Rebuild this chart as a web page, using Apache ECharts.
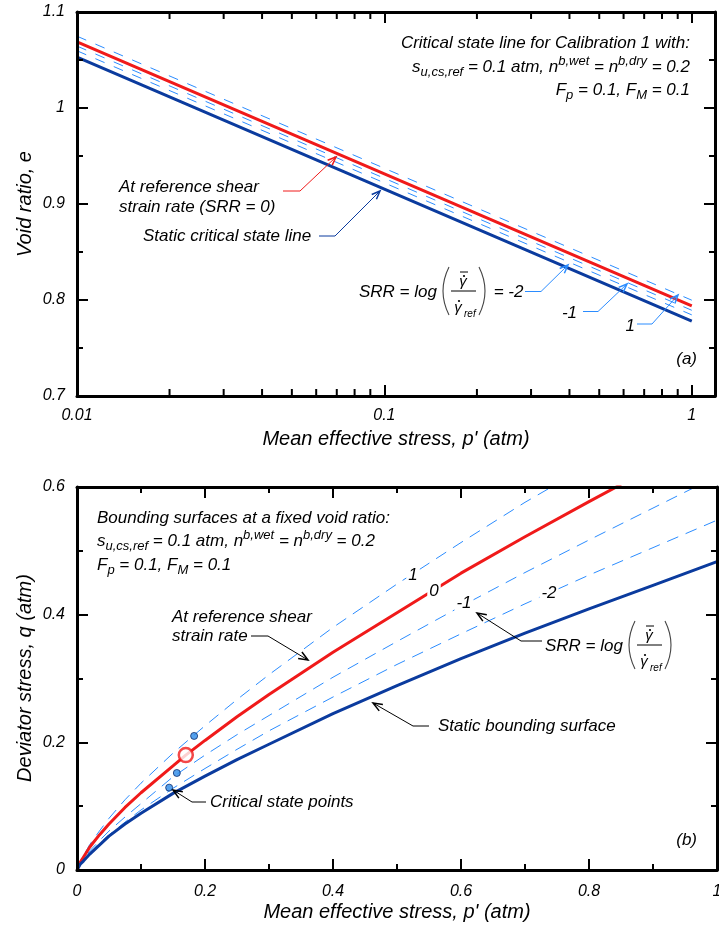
<!DOCTYPE html>
<html><head><meta charset="utf-8">
<script src="https://cdn.jsdelivr.net/npm/echarts@6.0.0/dist/echarts.min.js"></script>
<style>
html,body{margin:0;padding:0;background:#fff;overflow:hidden}
#wrap{position:relative;width:719px;height:930px}
#base,#axes{position:absolute;left:0;top:0;width:719px;height:930px}
#axes{pointer-events:none}
</style>
</head><body><div id="wrap"><div id="base"></div><div id="axes"></div></div>
<script>
// ---------------- data: panel (a) ----------------
const topP = [0.01, 0.1, 1];
const topStatic = [1.053, 0.9155, 0.778];
const topRef    = [1.069, 0.9315, 0.794];
const topSrrP1  = [1.0748, 0.9372, 0.7998];
const topSrrM1  = [1.0645, 0.9268, 0.7893];
const topSrrM2  = [1.0596, 0.9220, 0.7845];
const topXRange = [0.01, 1.19];
const topYRange = [0.7, 1.1];
const topLogMinorTicks = [0.02,0.03,0.04,0.05,0.06,0.07,0.08,0.09,0.2,0.3,0.4,0.5,0.6,0.7,0.8,0.9];

// ---------------- data: panel (b) ----------------
const botStaticP = [0, 0.005, 0.01, 0.02, 0.035, 0.05, 0.075, 0.1, 0.15, 0.2, 0.25, 0.3, 0.4, 0.5, 0.6, 0.7, 0.8, 0.9, 1.0];
const botStaticQ = [0, 0.009, 0.014, 0.025, 0.039, 0.053, 0.072, 0.089, 0.120, 0.147, 0.173, 0.197, 0.245, 0.289, 0.331, 0.371, 0.409, 0.446, 0.483];
const botRefP = [0, 0.005, 0.01, 0.02, 0.035, 0.05, 0.075, 0.1, 0.15, 0.17, 0.2, 0.25, 0.3, 0.4, 0.5, 0.6, 0.7, 0.8, 0.85];
const botRefQ = [0, 0.012, 0.020, 0.036, 0.055, 0.072, 0.098, 0.121, 0.163, 0.180, 0.203, 0.240, 0.275, 0.341, 0.403, 0.465, 0.522, 0.577, 0.604];
const botSrrP1P = [0, 0.005, 0.01, 0.02, 0.035, 0.05, 0.075, 0.1, 0.15, 0.2, 0.25, 0.3, 0.4, 0.5, 0.6, 0.7, 0.75];
const botSrrP1Q = [0, 0.013, 0.022, 0.040, 0.061, 0.081, 0.110, 0.136, 0.183, 0.226, 0.267, 0.306, 0.380, 0.448, 0.513, 0.576, 0.605];
const botSrrM1P = [0, 0.005, 0.01, 0.02, 0.035, 0.05, 0.075, 0.1, 0.15, 0.2, 0.25, 0.3, 0.4, 0.5, 0.6, 0.7, 0.8, 0.9, 0.97];
const botSrrM1Q = [0, 0.010, 0.017, 0.030, 0.046, 0.061, 0.083, 0.104, 0.146, 0.180, 0.212, 0.242, 0.302, 0.358, 0.413, 0.466, 0.517, 0.567, 0.602];
const botSrrM2P = [0, 0.005, 0.01, 0.02, 0.035, 0.05, 0.075, 0.1, 0.15, 0.2, 0.25, 0.3, 0.4, 0.5, 0.6, 0.7, 0.8, 0.9, 1.0];
const botSrrM2Q = [0, 0.009, 0.016, 0.027, 0.042, 0.055, 0.075, 0.094, 0.128, 0.159, 0.189, 0.218, 0.271, 0.322, 0.370, 0.417, 0.462, 0.505, 0.548];
const csPointsP = [0.144, 0.156, 0.183];
const csPointsQ = [0.129, 0.152, 0.210];
const refPointP = [0.17];
const refPointQ = [0.180];
const botXRange = [0, 1];
const botYRange = [0, 0.6];

// ---------------- styling ----------------
const FONT = '"Liberation Sans", Arial, sans-serif';
const RED = '#f01a1a', NAVY = '#0b3b9e', LBLUE = '#2b8cff';
const zip = (a, b) => a.map((v, i) => [v, b[i]]);

function report(e) {
  try {
    console.error(e);
    const d = document.createElement('div');
    d.style.cssText = 'position:absolute;left:2px;top:919px;font:8px sans-serif;color:#ccc;z-index:9';
    d.textContent = String((e && e.message) || e).slice(0, 140);
    document.body.appendChild(d);
  } catch (x) {}
}
window.addEventListener('error', ev => report(ev.message));

function grids() {
  return [
    {left: 77, top: 12, width: 638, height: 384, outerBoundsMode: 'none', containLabel: false},
    {left: 77, top: 487, width: 640, height: 383, outerBoundsMode: 'none', containLabel: false}
  ];
}

// ================= axes layer (frame, ticks, tick labels) =================
const axisLine = () => ({show: true, onZero: false, lineStyle: {color: '#000', width: 3}});
const axisTick = () => ({show: true, inside: true, length: 11, lineStyle: {color: '#000', width: 2}});
const minorTick = () => ({show: true, splitNumber: 2, length: 6, lineStyle: {color: '#000', width: 2}});
const labelStyle = (m) => ({show: true, margin: m, color: '#000', fontSize: 16, fontStyle: 'italic', fontFamily: FONT});
function topXLabel() { const o = labelStyle(12); o.showMaxLabel = false; return o; }

const axesOption = {
  animation: false,
  backgroundColor: 'transparent',
  grid: grids(),
  xAxis: [
    {gridIndex: 0, type: 'log', min: topXRange[0], max: topXRange[1], position: 'bottom',
      axisLine: axisLine(), axisTick: axisTick(), splitLine: {show: false}, axisLabel: topXLabel()},
    {gridIndex: 0, type: 'log', min: topXRange[0], max: topXRange[1], position: 'top',
      axisLine: axisLine(), axisTick: axisTick(), splitLine: {show: false}, axisLabel: {show: false}},
    {gridIndex: 1, type: 'value', min: botXRange[0], max: botXRange[1], interval: 0.2, position: 'bottom',
      axisLine: axisLine(), axisTick: axisTick(), minorTick: minorTick(), splitLine: {show: false}, axisLabel: labelStyle(14)},
    {gridIndex: 1, type: 'value', min: botXRange[0], max: botXRange[1], interval: 0.2, position: 'top',
      axisLine: axisLine(), axisTick: axisTick(), minorTick: minorTick(), splitLine: {show: false}, axisLabel: {show: false}}
  ],
  yAxis: [
    {gridIndex: 0, type: 'value', min: topYRange[0], max: topYRange[1], interval: 0.1, position: 'left',
      axisLine: axisLine(), axisTick: axisTick(), minorTick: minorTick(), splitLine: {show: false}, axisLabel: labelStyle(12)},
    {gridIndex: 0, type: 'value', min: topYRange[0], max: topYRange[1], interval: 0.1, position: 'right',
      axisLine: axisLine(), axisTick: axisTick(), minorTick: minorTick(), splitLine: {show: false}, axisLabel: {show: false}},
    {gridIndex: 1, type: 'value', min: botYRange[0], max: botYRange[1], interval: 0.2, position: 'left',
      axisLine: axisLine(), axisTick: axisTick(), minorTick: minorTick(), splitLine: {show: false}, axisLabel: labelStyle(12)},
    {gridIndex: 1, type: 'value', min: botYRange[0], max: botYRange[1], interval: 0.2, position: 'right',
      axisLine: axisLine(), axisTick: axisTick(), minorTick: minorTick(), splitLine: {show: false}, axisLabel: {show: false}}
  ],
  series: [
    {type: 'custom', xAxisIndex: 0, yAxisIndex: 0, clip: false,
      data: topLogMinorTicks.map(v => [v, topYRange[0]]),
      renderItem: function (params, api) {
        const v = api.value(0);
        const b = api.coord([v, topYRange[0]]);
        const t = api.coord([v, topYRange[1]]);
        return {type: 'group', children: [
          {type: 'line', shape: {x1: b[0], y1: b[1], x2: b[0], y2: b[1] - 7}, style: {stroke: '#000', lineWidth: 2}},
          {type: 'line', shape: {x1: t[0], y1: t[1], x2: t[0], y2: t[1] + 7}, style: {stroke: '#000', lineWidth: 2}}
        ]};
      }}
  ]
};

// ================= data layer (curves, points, annotations) =================
function txt(x, y, text, o) {
  o = o || {};
  const st = {text: text, fill: '#000', font: 'italic ' + (o.size || 17) + 'px ' + FONT,
    align: o.align || 'left', verticalAlign: 'middle'};
  if (o.bg) { st.backgroundColor = '#fff'; st.padding = [0, 2]; }
  if (o.rich) {
    st.lineHeight = 24;
    st.rich = {
      sub: {font: 'italic 13px ' + FONT, lineHeight: 14, verticalAlign: 'bottom'},
      sup: {font: 'italic 13px ' + FONT, lineHeight: 14, verticalAlign: 'top'}
    };
  }
  return {type: 'text', x: x, y: y, rotation: o.rotation || 0, z: 100, silent: true, style: st};
}
function arrow(points, color, head) {
  head = head || 9;
  const n = points.length;
  const x1 = points[n - 2][0], y1 = points[n - 2][1], x2 = points[n - 1][0], y2 = points[n - 1][1];
  const ang = Math.atan2(y2 - y1, x2 - x1);
  const a1 = ang + Math.PI - 0.38, a2 = ang + Math.PI + 0.38;
  return [
    {type: 'polyline', z: 100, silent: true, shape: {points: points}, style: {stroke: color, lineWidth: 1, fill: null}},
    {type: 'polyline', z: 100, silent: true, shape: {points: [[x2 + head * Math.cos(a1), y2 + head * Math.sin(a1)], [x2, y2], [x2 + head * Math.cos(a2), y2 + head * Math.sin(a2)]]},
      style: {stroke: color, lineWidth: 1.5, fill: null}}
  ];
}
function line(x1, y1, x2, y2, w) {
  return {type: 'line', z: 100, silent: true, shape: {x1: x1, y1: y1, x2: x2, y2: y2}, style: {stroke: '#000', lineWidth: w || 1}};
}
function dot(cx, cy) {
  return {type: 'circle', z: 100, silent: true, shape: {cx: cx, cy: cy, r: 1.1}, style: {fill: '#000'}};
}
function paren(x, y, side) {
  const cx = x + side * 12;
  return {type: 'bezierCurve', z: 100, silent: true,
    shape: {x1: x, y1: y - 24, x2: x, y2: y + 24, cpx1: cx, cpy1: y},
    style: {stroke: '#444', lineWidth: 1.1, fill: null}};
}
function formula(x0, y0, suffix) {
  const els = [];
  els.push(txt(x0, y0 + 1, 'SRR = log'));
  els.push(paren(x0 + 90, y0, -1));
  els.push(line(x0 + 92, y0, x0 + 117, y0, 1));
  els.push(txt(x0 + 104, y0 - 9, 'γ', {align: 'center', size: 15}));
  els.push(dot(x0 + 105, y0 - 15));
  els.push(line(x0 + 101, y0 - 19, x0 + 109, y0 - 19, 1));
  els.push(txt(x0 + 99, y0 + 17, 'γ', {align: 'center', size: 15}));
  els.push(dot(x0 + 100, y0 + 10));
  els.push(txt(x0 + 105, y0 + 23, 'ref', {size: 10}));
  els.push(paren(x0 + 120, y0, 1));
  if (suffix) els.push(txt(x0 + 130, y0 + 1, suffix));
  return els;
}
const hiddenAxis = (grid, type, range, extra) => Object.assign({gridIndex: grid, type: type, min: range[0], max: range[1], show: false,
  axisLine: {show: false, onZero: false}, axisTick: {show: false}, axisLabel: {show: false}, splitLine: {show: false}}, extra || {});

const baseOption = {
  animation: false,
  backgroundColor: '#fff',
  grid: grids(),
  xAxis: [
    hiddenAxis(0, 'log', topXRange),
    hiddenAxis(1, 'value', botXRange, {interval: 0.2})
  ],
  yAxis: [
    hiddenAxis(0, 'value', topYRange, {interval: 0.1}),
    hiddenAxis(1, 'value', botYRange, {interval: 0.2})
  ],
  series: [
    {type: 'line', xAxisIndex: 0, yAxisIndex: 0, data: zip(topP, topSrrP1), showSymbol: false,
      lineStyle: {color: LBLUE, width: 1, type: [10, 10]}},
    {type: 'line', xAxisIndex: 0, yAxisIndex: 0, data: zip(topP, topSrrM1), showSymbol: false,
      lineStyle: {color: LBLUE, width: 1, type: [10, 10]}},
    {type: 'line', xAxisIndex: 0, yAxisIndex: 0, data: zip(topP, topSrrM2), showSymbol: false,
      lineStyle: {color: LBLUE, width: 1, type: [10, 10]}},
    {type: 'line', xAxisIndex: 0, yAxisIndex: 0, data: zip(topP, topRef), showSymbol: false,
      lineStyle: {color: RED, width: 3}},
    {type: 'line', xAxisIndex: 0, yAxisIndex: 0, data: zip(topP, topStatic), showSymbol: false,
      lineStyle: {color: NAVY, width: 3}},
    {type: 'line', xAxisIndex: 1, yAxisIndex: 1, data: zip(botSrrP1P, botSrrP1Q), showSymbol: false,
      lineStyle: {color: LBLUE, width: 1, type: [12, 8]}},
    {type: 'line', xAxisIndex: 1, yAxisIndex: 1, data: zip(botSrrM1P, botSrrM1Q), showSymbol: false,
      lineStyle: {color: LBLUE, width: 1, type: [12, 8]}},
    {type: 'line', xAxisIndex: 1, yAxisIndex: 1, data: zip(botSrrM2P, botSrrM2Q), showSymbol: false,
      lineStyle: {color: LBLUE, width: 1, type: [12, 8]}},
    {type: 'line', xAxisIndex: 1, yAxisIndex: 1, data: zip(botRefP, botRefQ), showSymbol: false,
      lineStyle: {color: RED, width: 3}},
    {type: 'line', xAxisIndex: 1, yAxisIndex: 1, data: zip(botStaticP, botStaticQ), showSymbol: false,
      lineStyle: {color: NAVY, width: 3}},
    {type: 'scatter', xAxisIndex: 1, yAxisIndex: 1, data: zip(csPointsP, csPointsQ), symbolSize: 7,
      itemStyle: {color: '#2a8ae8', borderColor: '#0b2c6e', borderWidth: 1}, z: 5},
    {type: 'scatter', xAxisIndex: 1, yAxisIndex: 1, data: zip(refPointP, refPointQ), symbolSize: 14,
      itemStyle: {color: '#fff', borderColor: RED, borderWidth: 2.5}, z: 6}
  ],
  graphic: {elements: [].concat(
    [
      txt(690, 43, 'Critical state line for Calibration 1 with:', {align: 'right'}),
      txt(690, 67, 's{sub|u,cs,ref} = 0.1 atm, n{sup|b,wet} = n{sup|b,dry} = 0.2', {align: 'right', rich: true}),
      txt(690, 90, 'F{sub|p} = 0.1, F{sub|M} = 0.1', {align: 'right', rich: true}),
      txt(119, 187, 'At reference shear'),
      txt(119, 207, 'strain rate (SRR = 0)'),
      txt(143, 236, 'Static critical state line'),
      txt(577, 313, '-1', {align: 'right'}),
      txt(635, 326, '1', {align: 'right'}),
      txt(697, 359, '(a)', {align: 'right'}),
      txt(396, 439, "Mean effective stress, p' (atm)", {align: 'center', size: 20}),
      txt(25, 204, 'Void ratio, e', {align: 'center', size: 20, rotation: Math.PI / 2})
    ],
    formula(359, 291, ' = -2'),
    arrow([[283, 191], [300, 191], [336, 157]], RED, 9),
    arrow([[319, 236], [335, 236], [380, 191]], NAVY, 9),
    arrow([[525, 291.5], [541, 291.5], [568, 265]], LBLUE, 9),
    arrow([[583, 311.5], [598, 311.5], [627, 284]], LBLUE, 9),
    arrow([[637, 324], [652, 324], [678, 295]], LBLUE, 9),
    [
      txt(97, 518, 'Bounding surfaces at a fixed void ratio:'),
      txt(97, 541, 's{sub|u,cs,ref} = 0.1 atm, n{sup|b,wet} = n{sup|b,dry} = 0.2', {rich: true}),
      txt(97, 565, 'F{sub|p} = 0.1, F{sub|M} = 0.1', {rich: true}),
      txt(172, 617, 'At reference shear'),
      txt(172, 636, 'strain rate'),
      txt(210, 802, 'Critical state points'),
      txt(438, 726, 'Static bounding surface'),
      txt(413, 575, '1', {align: 'center', bg: true}),
      txt(434, 591, '0', {align: 'center', bg: true}),
      txt(464, 603, '-1', {align: 'center', bg: true}),
      txt(549, 593, '-2', {align: 'center', bg: true}),
      txt(697, 840, '(b)', {align: 'right'}),
      txt(397, 912, "Mean effective stress, p' (atm)", {align: 'center', size: 20}),
      txt(25, 678, 'Deviator stress, q (atm)', {align: 'center', size: 20, rotation: Math.PI / 2})
    ],
    formula(545, 645, ''),
    arrow([[251, 636], [268, 636], [308, 660]], '#000', 10),
    arrow([[206, 802], [192, 802], [173, 790]], '#000', 10),
    arrow([[429, 726], [413, 726], [373, 703]], '#000', 10),
    arrow([[542, 641], [521, 641], [477, 613]], '#000', 10)
  )}
};

// axes layer first (independent instance, drawn on top of the data layer)
try {
  const axesChart = echarts.init(document.getElementById('axes'), null, {renderer: 'canvas'});
  axesChart.setOption(axesOption);
} catch (e) { report(e); }

try {
  const baseChart = echarts.init(document.getElementById('base'), null, {renderer: 'canvas'});
  baseChart.setOption(baseOption);
} catch (e) { report(e); }
</script>
</body></html>
